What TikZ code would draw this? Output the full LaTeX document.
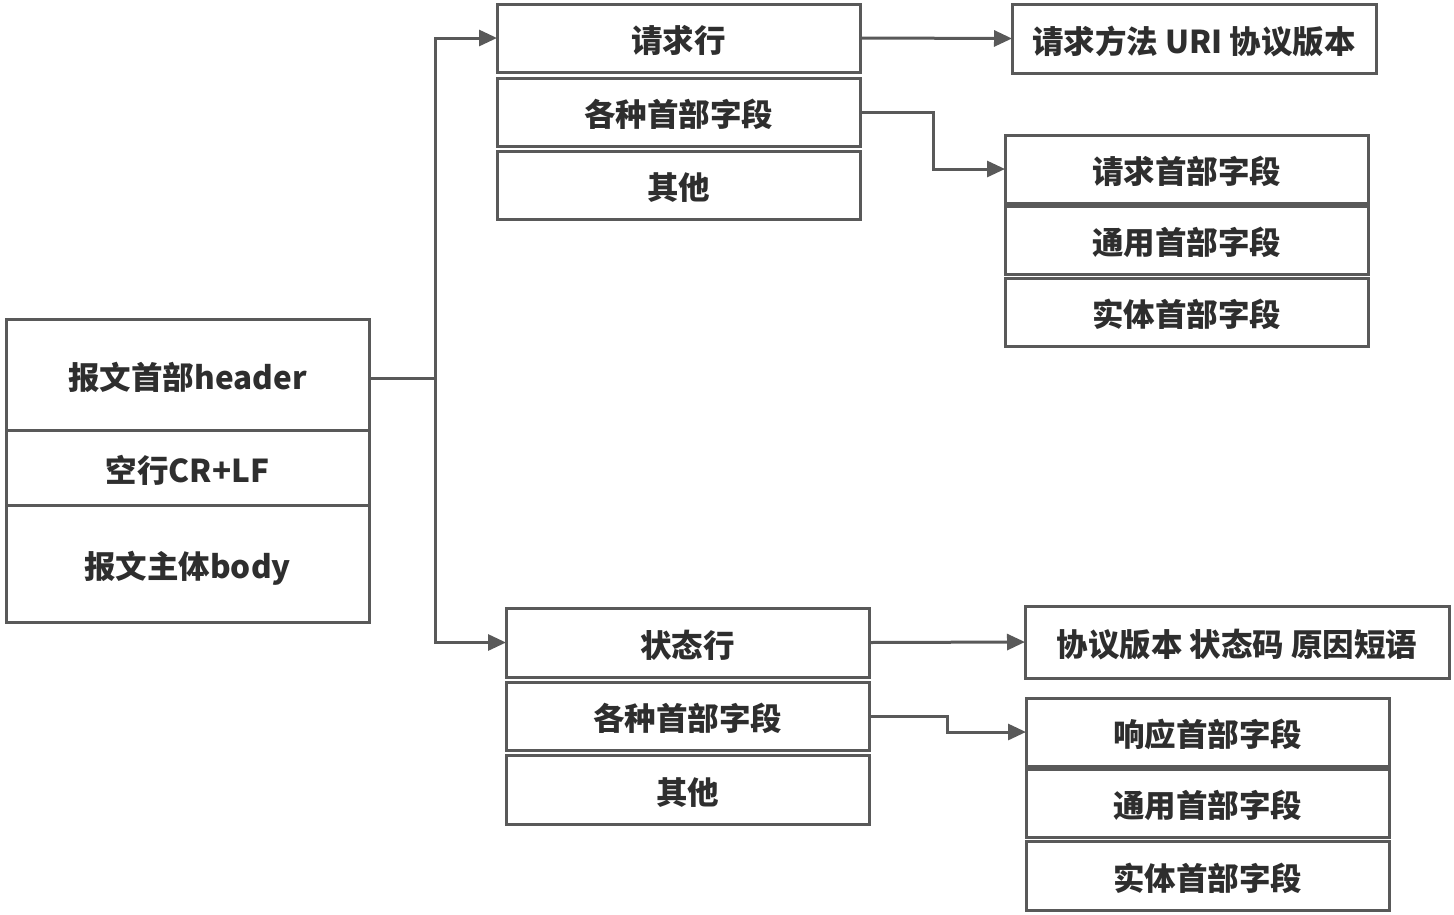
\documentclass[tikz,border=0pt]{standalone}
\usepackage{fontspec}
\setmainfont{Noto Sans CJK SC}
\usetikzlibrary{arrows.meta}
\definecolor{linegray}{HTML}{595959}
\definecolor{textgray}{HTML}{2E2E2E}
\tikzset{
	cell/.style={draw=linegray, line width=3pt, fill=white, text=textgray,
		font=\bfseries\fontsize{31.5}{31.5}\selectfont, minimum width=363pt,
		minimum height=68pt, text height=33pt, text depth=4pt,
		inner sep=0pt, outer sep=0pt},
	link/.style={draw=linegray, line width=3pt},
	tip/.style={link, -{Triangle[length=18pt,width=16pt]}}
}
\begin{document}
\begin{tikzpicture}[x=1pt, y=-1pt]
	\useasboundingbox (0,0) rectangle (1454,914);
	\node[cell, minimum height=111pt] (hdr) at (187.5,374.5) {报文首部header};
	\node[cell, minimum height=75pt] (blank) at (187.5,467.5) {空行CR+LF};
	\node[cell, minimum height=117pt] (body) at (187.5,563.5) {报文主体body};
	\node[cell] (reqline) at (678.5,38) {请求行};
	\node[cell] (reqhdr) at (678.5,112) {各种首部字段};
	\node[cell] (reqother) at (678.5,185) {其他};
	\node[cell, minimum width=364pt, minimum height=69pt] (reqdesc) at (1194,38.5) {请求方法 URI 协议版本};
	\node[cell] (reqfld) at (1186.5,169) {请求首部字段};
	\node[cell] (reqgen) at (1186.5,240) {通用首部字段};
	\node[cell] (reqent) at (1186.5,312) {实体首部字段};
	\node[cell, minimum height=69pt] (statline) at (687.5,642.5) {状态行};
	\node[cell] (stathdr) at (687.5,716) {各种首部字段};
	\node[cell, minimum height=69pt] (statother) at (687.5,789.5) {其他};
	\node[cell, minimum width=424pt, minimum height=72pt] (statdesc) at (1237,642) {协议版本 状态码 原因短语};
	\node[cell] (respfld) at (1207.5,732) {响应首部字段};
	\node[cell] (respgen) at (1207.5,803) {通用首部字段};
	\node[cell, minimum height=69pt] (respent) at (1207.5,875.5) {实体首部字段};
	\draw[link] (hdr.east) ++(0,3.5) -- ++(66,0) coordinate (fork);
	\draw[tip] (fork) |- (reqline.west);
	\draw[tip] (fork) |- (statline.west);
	\draw[tip] (reqline.east) -- (reqdesc.west);
	\draw[tip] (reqhdr.east) -- ++(73,0) |- (reqfld.west);
	\draw[tip] (statline.east) -- (statdesc.west);
	\draw[tip] (stathdr.east) -- ++(78,0) |- (respfld.west);
\end{tikzpicture}
\end{document}
